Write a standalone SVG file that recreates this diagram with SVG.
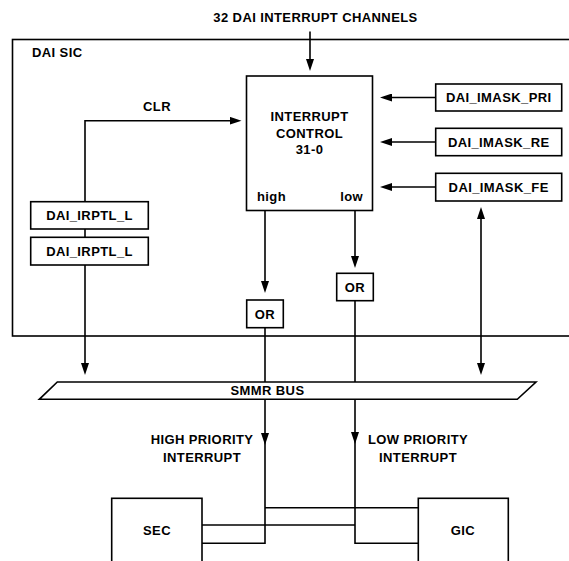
<svg xmlns="http://www.w3.org/2000/svg" width="569" height="561" viewBox="0 0 569 561">
<defs>
<marker id="ah" viewBox="0 0 12 8" markerWidth="12" markerHeight="8" refX="8" refY="4" orient="auto" markerUnits="userSpaceOnUse">
<path d="M0,0 L12,4 L0,8 z" fill="#000"/>
</marker>
<marker id="ahs" viewBox="0 0 12 8" markerWidth="12" markerHeight="8" refX="4" refY="4" orient="auto" markerUnits="userSpaceOnUse">
<path d="M12,0 L0,4 L12,8 z" fill="#000"/>
</marker>
</defs>
<style>
.box{fill:#fff;stroke:#000;stroke-width:1.6}
.ln{fill:none;stroke:#000;stroke-width:1.6}
.arr{fill:none;stroke:#000;stroke-width:1.6;marker-end:url(#ah)}
text{font-family:"Liberation Sans",Arial,sans-serif;font-weight:bold;font-size:13px;letter-spacing:0.4px;fill:#000}
.c{text-anchor:middle}
.e{text-anchor:end}
</style>
<rect width="569" height="561" fill="#fff"/>
<g id="dai-sic">
<rect class="box" x="12.5" y="39.5" width="570" height="296.5" fill="none"/>
<text x="32" y="57">DAI SIC</text>
</g>
<text class="c" x="315.5" y="22">32 DAI INTERRUPT CHANNELS</text>
<g id="connectors">
<path class="arr" d="M310,31.5 V67"/>
<path class="arr" d="M85,265 V371"/>
<path class="arr" d="M85,201.7 V120.7 H237.5"/>
<path class="ln" d="M85,229 V237.3"/>
<path class="arr" d="M435.7,97.5 H384"/>
<path class="arr" d="M435.7,142 H384"/>
<path class="arr" d="M435.7,187 H384"/>
<path class="arr" d="M265,210.5 V289"/>
<path class="arr" d="M355,210.5 V264"/>
<path class="ln" d="M265,327.7 V382"/>
<path class="ln" d="M355,300.7 V382"/>
<path class="ln" d="M481,211 V371" style="marker-start:url(#ahs);marker-end:url(#ah)"/>
<path class="arr" d="M265,399.3 V441"/>
<path class="ln" d="M265,437 V543.3 H202"/>
<path class="arr" d="M355,399.3 V440"/>
<path class="ln" d="M355,436 V543.3 H418.3"/>
<path class="ln" d="M265,507.7 H418.3"/>
<path class="ln" d="M202,525 H355"/>
<text class="c" x="157" y="111">CLR</text>
<text class="c" x="202" y="444">HIGH PRIORITY</text>
<text class="c" x="202" y="461.5">INTERRUPT</text>
<text class="c" x="418" y="444">LOW PRIORITY</text>
<text class="c" x="418" y="461.5">INTERRUPT</text>
</g>
<g id="interrupt-control">
<rect class="box" x="246.5" y="76" width="126" height="134.5"/>
<text class="c" x="309.5" y="120.5">INTERRUPT</text>
<text class="c" x="309.5" y="137.5">CONTROL</text>
<text class="c" x="309.5" y="154">31-0</text>
<text x="257" y="200.5">high</text>
<text class="e" x="363" y="200.5">low</text>
</g>
<g id="dai-irptl-l-1">
<rect class="box" x="30.7" y="201.7" width="117.6" height="27.3"/>
<text class="c" x="89.5" y="220">DAI_IRPTL_L</text>
</g>
<g id="dai-irptl-l-2">
<rect class="box" x="30.7" y="237.3" width="117.6" height="27.7"/>
<text class="c" x="89.5" y="255.5">DAI_IRPTL_L</text>
</g>
<g id="dai-imask-pri">
<rect class="box" x="435.7" y="84" width="126" height="27"/>
<text class="c" x="498.7" y="102.2">DAI_IMASK_PRI</text>
</g>
<g id="dai-imask-re">
<rect class="box" x="435.7" y="128.3" width="126" height="27.4"/>
<text class="c" x="498.7" y="146.7">DAI_IMASK_RE</text>
</g>
<g id="dai-imask-fe">
<rect class="box" x="435.7" y="173.3" width="126" height="27.7"/>
<text class="c" x="498.7" y="191.7">DAI_IMASK_FE</text>
</g>
<g id="or-high">
<rect class="box" x="246.7" y="300" width="36.6" height="27.7"/>
<text class="c" x="265" y="318.5">OR</text>
</g>
<g id="or-low">
<rect class="box" x="336.7" y="273.3" width="36.6" height="27.4"/>
<text class="c" x="355" y="291.6">OR</text>
</g>
<g id="smmr-bus">
<path class="box" d="M57.3,382 H536 L517.3,399.3 H39.3 Z"/>
<text class="c" x="267.5" y="395">SMMR BUS</text>
</g>
<g id="sec">
<rect class="box" x="111.7" y="498.3" width="90.3" height="70"/>
<text class="c" x="157" y="535">SEC</text>
</g>
<g id="gic">
<rect class="box" x="418.3" y="498.3" width="90" height="70"/>
<text class="c" x="463" y="535">GIC</text>
</g>
</svg>
